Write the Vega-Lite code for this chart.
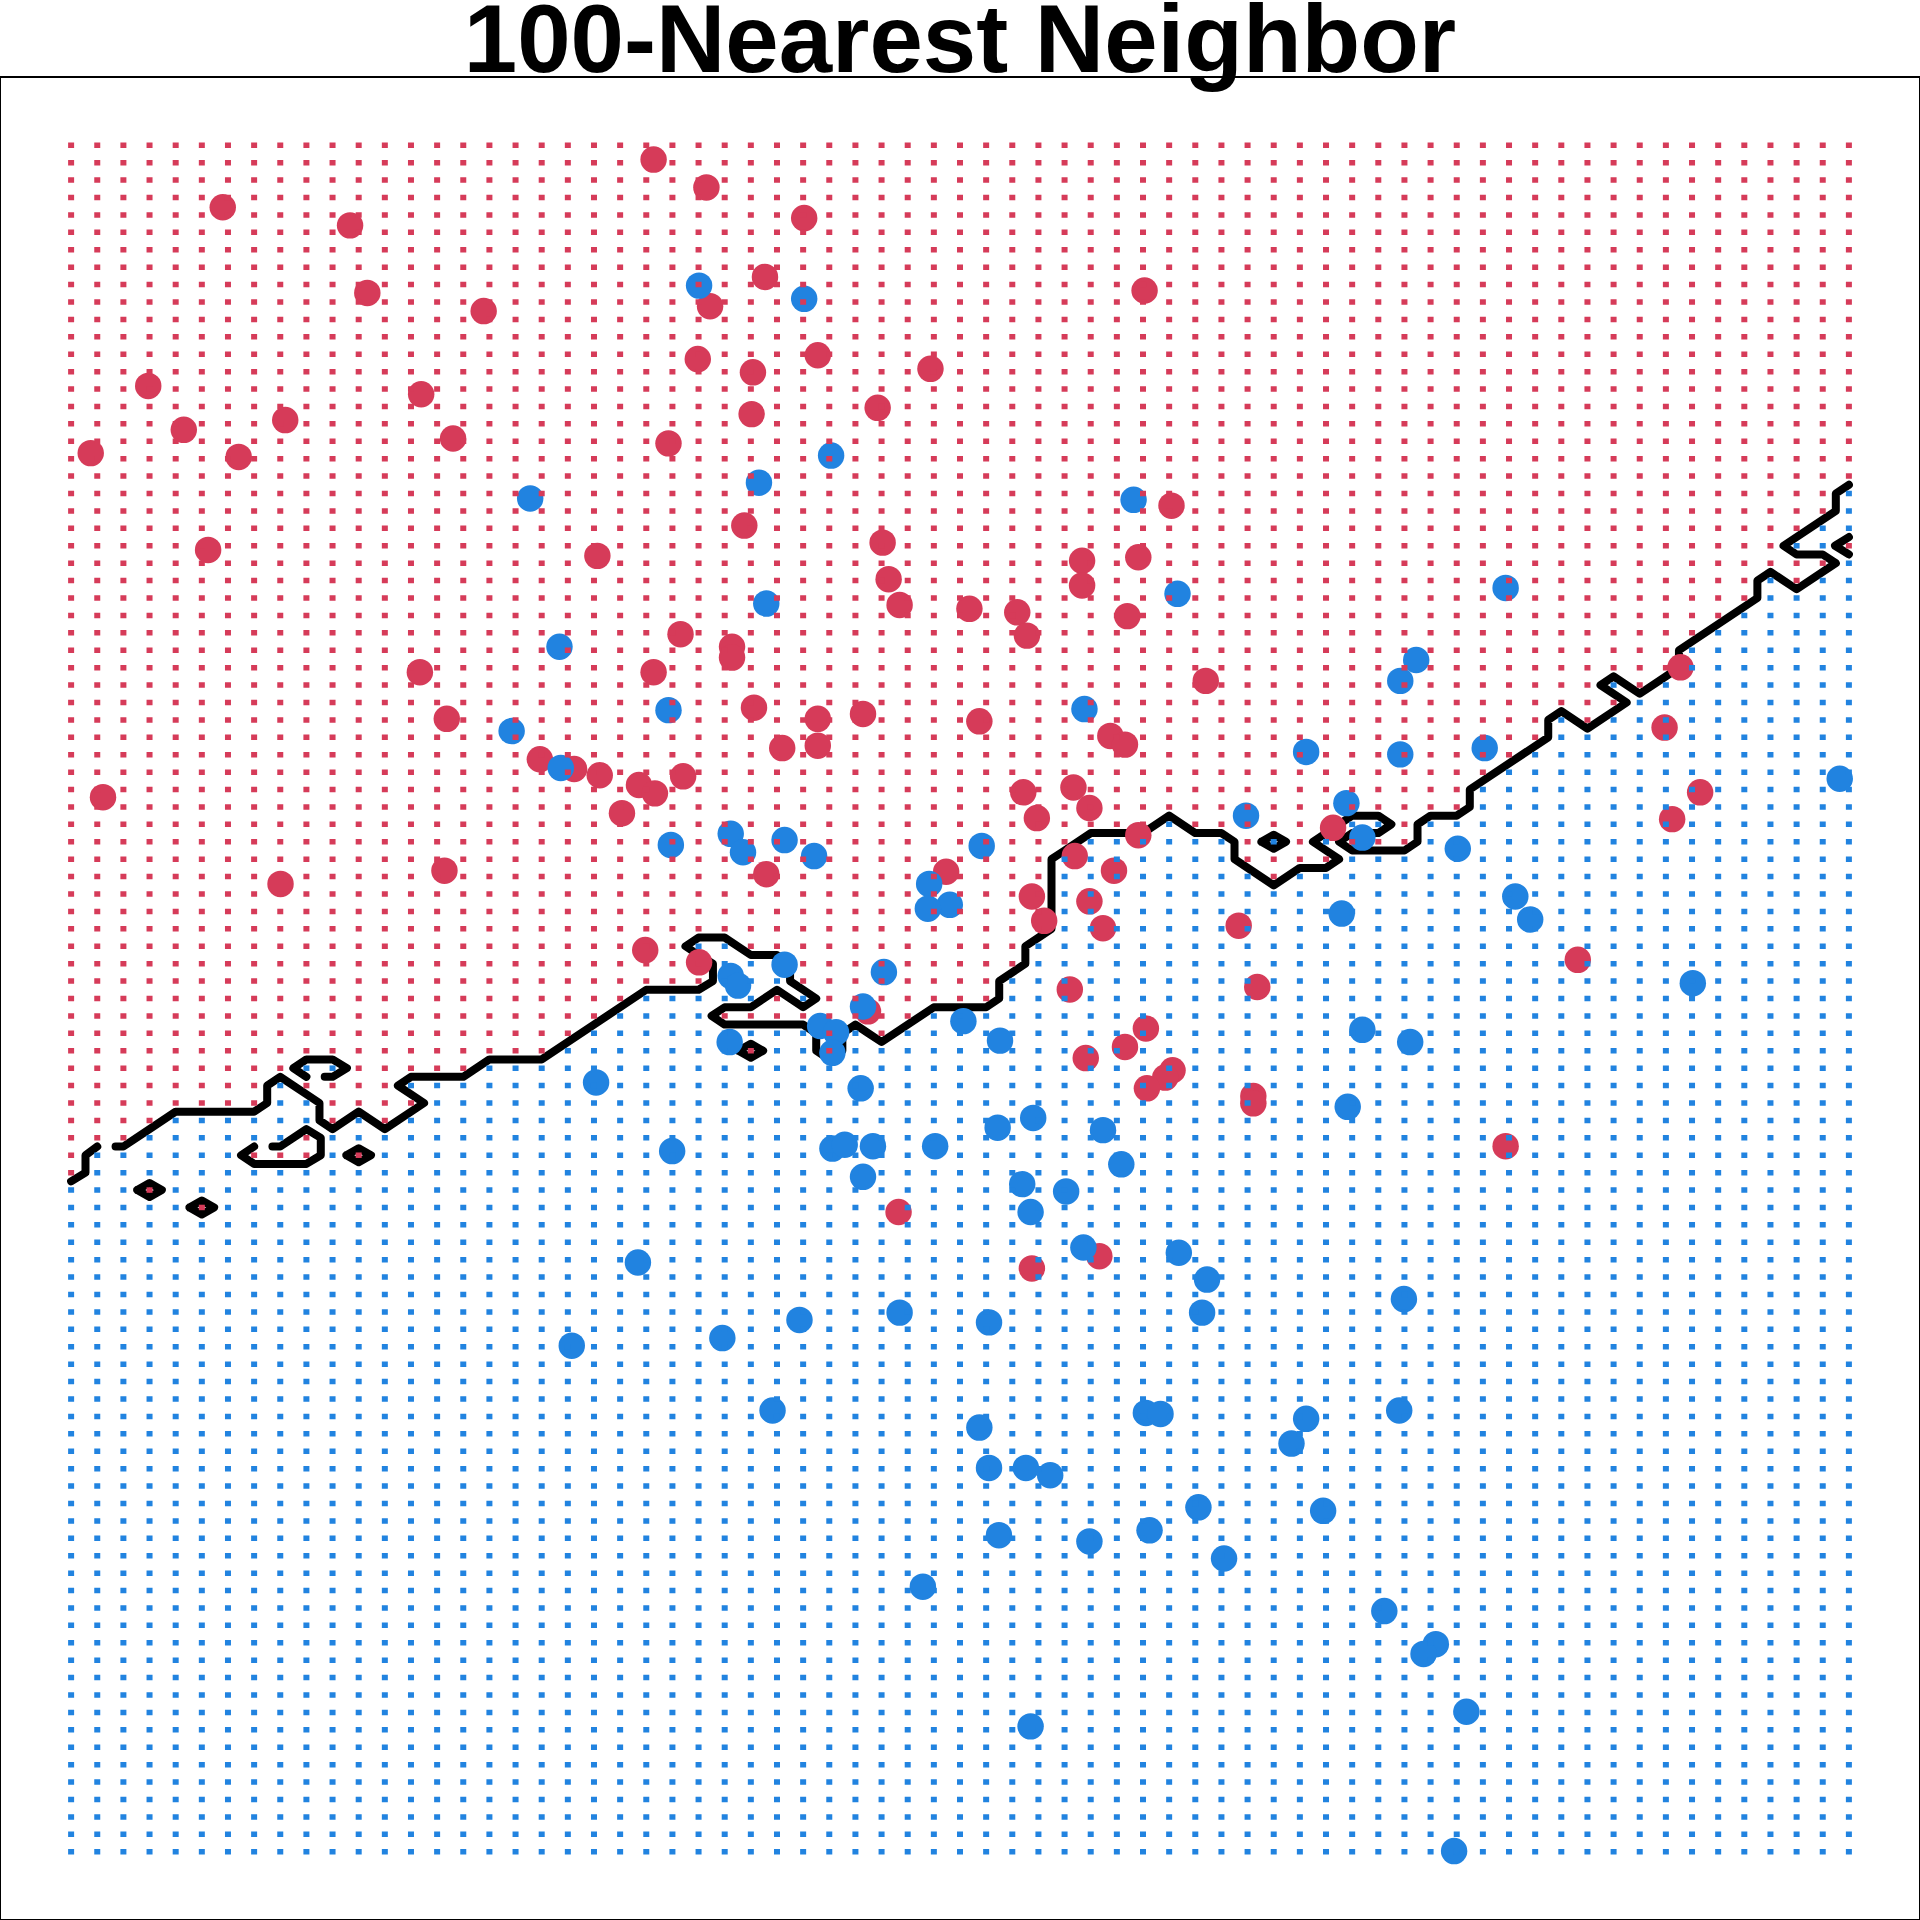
{
  "$schema": "https://vega.github.io/schema/vega-lite/v6.json",
  "width": 1920,
  "height": 1843,
  "autosize": {"type": "none"},
  "padding": {"top": 77, "left": 0, "right": 0, "bottom": 0},
  "background": "white",
  "title": {"text": "100-Nearest Neighbor", "font": "Liberation Sans", "fontSize": 96, "fontWeight": "bold", "color": "black", "anchor": "middle", "baseline": "alphabetic", "offset": 3, "dy": 94},
  "config": {"view": {"stroke": "black", "strokeWidth": 2}},
  "datasets": {
    "grid": [
      {"x":-2.6,"y0":-2.025,"y1":-0.075,"c":"blue"},{"x":-2.6,"y0":-0.075,"y1":2.925,"c":"red"},
      {"x":-2.5,"y0":-2.025,"y1":0.025,"c":"blue"},{"x":-2.5,"y0":0.025,"y1":2.925,"c":"red"},
      {"x":-2.4,"y0":-2.025,"y1":0.025,"c":"blue"},{"x":-2.4,"y0":0.025,"y1":2.925,"c":"red"},
      {"x":-2.3,"y0":-2.025,"y1":-0.125,"c":"blue"},{"x":-2.3,"y0":-0.125,"y1":-0.075,"c":"red"},{"x":-2.3,"y0":-0.075,"y1":0.075,"c":"blue"},{"x":-2.3,"y0":0.075,"y1":2.925,"c":"red"},
      {"x":-2.2,"y0":-2.025,"y1":0.125,"c":"blue"},{"x":-2.2,"y0":0.125,"y1":2.925,"c":"red"},
      {"x":-2.1,"y0":-2.025,"y1":-0.175,"c":"blue"},{"x":-2.1,"y0":-0.175,"y1":-0.125,"c":"red"},{"x":-2.1,"y0":-0.125,"y1":0.125,"c":"blue"},{"x":-2.1,"y0":0.125,"y1":2.925,"c":"red"},
      {"x":-2.0,"y0":-2.025,"y1":0.125,"c":"blue"},{"x":-2.0,"y0":0.125,"y1":2.925,"c":"red"},
      {"x":-1.9,"y0":-2.025,"y1":-0.025,"c":"blue"},{"x":-1.9,"y0":-0.025,"y1":0.025,"c":"red"},{"x":-1.9,"y0":0.025,"y1":0.125,"c":"blue"},{"x":-1.9,"y0":0.125,"y1":2.925,"c":"red"},
      {"x":-1.8,"y0":-2.025,"y1":-0.025,"c":"blue"},{"x":-1.8,"y0":-0.025,"y1":0.025,"c":"red"},{"x":-1.8,"y0":0.025,"y1":0.225,"c":"blue"},{"x":-1.8,"y0":0.225,"y1":2.925,"c":"red"},
      {"x":-1.7,"y0":-2.025,"y1":-0.025,"c":"blue"},{"x":-1.7,"y0":-0.025,"y1":0.075,"c":"red"},{"x":-1.7,"y0":0.075,"y1":0.175,"c":"blue"},{"x":-1.7,"y0":0.175,"y1":0.225,"c":"red"},{"x":-1.7,"y0":0.225,"y1":0.275,"c":"blue"},{"x":-1.7,"y0":0.275,"y1":2.925,"c":"red"},
      {"x":-1.6,"y0":-2.025,"y1":0.075,"c":"blue"},{"x":-1.6,"y0":0.075,"y1":0.225,"c":"red"},{"x":-1.6,"y0":0.225,"y1":0.275,"c":"blue"},{"x":-1.6,"y0":0.275,"y1":2.925,"c":"red"},
      {"x":-1.5,"y0":-2.025,"y1":-0.025,"c":"blue"},{"x":-1.5,"y0":-0.025,"y1":0.025,"c":"red"},{"x":-1.5,"y0":0.025,"y1":0.125,"c":"blue"},{"x":-1.5,"y0":0.125,"y1":2.925,"c":"red"},
      {"x":-1.4,"y0":-2.025,"y1":0.075,"c":"blue"},{"x":-1.4,"y0":0.075,"y1":2.925,"c":"red"},
      {"x":-1.3,"y0":-2.025,"y1":0.125,"c":"blue"},{"x":-1.3,"y0":0.125,"y1":0.175,"c":"red"},{"x":-1.3,"y0":0.175,"y1":0.225,"c":"blue"},{"x":-1.3,"y0":0.225,"y1":2.925,"c":"red"},
      {"x":-1.2,"y0":-2.025,"y1":0.225,"c":"blue"},{"x":-1.2,"y0":0.225,"y1":2.925,"c":"red"},
      {"x":-1.1,"y0":-2.025,"y1":0.225,"c":"blue"},{"x":-1.1,"y0":0.225,"y1":2.925,"c":"red"},
      {"x":-1.0,"y0":-2.025,"y1":0.275,"c":"blue"},{"x":-1.0,"y0":0.275,"y1":2.925,"c":"red"},
      {"x":-0.9,"y0":-2.025,"y1":0.275,"c":"blue"},{"x":-0.9,"y0":0.275,"y1":2.925,"c":"red"},
      {"x":-0.8,"y0":-2.025,"y1":0.275,"c":"blue"},{"x":-0.8,"y0":0.275,"y1":2.925,"c":"red"},
      {"x":-0.7,"y0":-2.025,"y1":0.325,"c":"blue"},{"x":-0.7,"y0":0.325,"y1":2.925,"c":"red"},
      {"x":-0.6,"y0":-2.025,"y1":0.375,"c":"blue"},{"x":-0.6,"y0":0.375,"y1":2.925,"c":"red"},
      {"x":-0.5,"y0":-2.025,"y1":0.425,"c":"blue"},{"x":-0.5,"y0":0.425,"y1":2.925,"c":"red"},
      {"x":-0.4,"y0":-2.025,"y1":0.475,"c":"blue"},{"x":-0.4,"y0":0.475,"y1":2.925,"c":"red"},
      {"x":-0.3,"y0":-2.025,"y1":0.475,"c":"blue"},{"x":-0.3,"y0":0.475,"y1":2.925,"c":"red"},
      {"x":-0.2,"y0":-2.025,"y1":0.475,"c":"blue"},{"x":-0.2,"y0":0.475,"y1":0.575,"c":"red"},{"x":-0.2,"y0":0.575,"y1":0.625,"c":"blue"},{"x":-0.2,"y0":0.625,"y1":2.925,"c":"red"},
      {"x":-0.1,"y0":-2.025,"y1":0.375,"c":"blue"},{"x":-0.1,"y0":0.375,"y1":0.425,"c":"red"},{"x":-0.1,"y0":0.425,"y1":0.625,"c":"blue"},{"x":-0.1,"y0":0.625,"y1":2.925,"c":"red"},
      {"x":0.0,"y0":-2.025,"y1":0.275,"c":"blue"},{"x":0.0,"y0":0.275,"y1":0.325,"c":"red"},{"x":0.0,"y0":0.325,"y1":0.375,"c":"blue"},{"x":0.0,"y0":0.375,"y1":0.425,"c":"red"},{"x":0.0,"y0":0.425,"y1":0.575,"c":"blue"},{"x":0.0,"y0":0.575,"y1":2.925,"c":"red"},
      {"x":0.1,"y0":-2.025,"y1":0.375,"c":"blue"},{"x":0.1,"y0":0.375,"y1":0.475,"c":"red"},{"x":0.1,"y0":0.475,"y1":0.575,"c":"blue"},{"x":0.1,"y0":0.575,"y1":2.925,"c":"red"},
      {"x":0.2,"y0":-2.025,"y1":0.375,"c":"blue"},{"x":0.2,"y0":0.375,"y1":0.425,"c":"red"},{"x":0.2,"y0":0.425,"y1":0.475,"c":"blue"},{"x":0.2,"y0":0.475,"y1":2.925,"c":"red"},
      {"x":0.3,"y0":-2.025,"y1":0.275,"c":"blue"},{"x":0.3,"y0":0.275,"y1":2.925,"c":"red"},
      {"x":0.4,"y0":-2.025,"y1":0.375,"c":"blue"},{"x":0.4,"y0":0.375,"y1":2.925,"c":"red"},
      {"x":0.5,"y0":-2.025,"y1":0.325,"c":"blue"},{"x":0.5,"y0":0.325,"y1":2.925,"c":"red"},
      {"x":0.6,"y0":-2.025,"y1":0.375,"c":"blue"},{"x":0.6,"y0":0.375,"y1":2.925,"c":"red"},
      {"x":0.7,"y0":-2.025,"y1":0.425,"c":"blue"},{"x":0.7,"y0":0.425,"y1":2.925,"c":"red"},
      {"x":0.8,"y0":-2.025,"y1":0.425,"c":"blue"},{"x":0.8,"y0":0.425,"y1":2.925,"c":"red"},
      {"x":0.9,"y0":-2.025,"y1":0.425,"c":"blue"},{"x":0.9,"y0":0.425,"y1":2.925,"c":"red"},
      {"x":1.0,"y0":-2.025,"y1":0.525,"c":"blue"},{"x":1.0,"y0":0.525,"y1":2.925,"c":"red"},
      {"x":1.1,"y0":-2.025,"y1":0.625,"c":"blue"},{"x":1.1,"y0":0.625,"y1":2.925,"c":"red"},
      {"x":1.2,"y0":-2.025,"y1":0.875,"c":"blue"},{"x":1.2,"y0":0.875,"y1":2.925,"c":"red"},
      {"x":1.3,"y0":-2.025,"y1":0.925,"c":"blue"},{"x":1.3,"y0":0.925,"y1":2.925,"c":"red"},
      {"x":1.4,"y0":-2.025,"y1":0.925,"c":"blue"},{"x":1.4,"y0":0.925,"y1":2.925,"c":"red"},
      {"x":1.5,"y0":-2.025,"y1":0.925,"c":"blue"},{"x":1.5,"y0":0.925,"y1":2.925,"c":"red"},
      {"x":1.6,"y0":-2.025,"y1":0.975,"c":"blue"},{"x":1.6,"y0":0.975,"y1":2.925,"c":"red"},
      {"x":1.7,"y0":-2.025,"y1":0.925,"c":"blue"},{"x":1.7,"y0":0.925,"y1":2.925,"c":"red"},
      {"x":1.8,"y0":-2.025,"y1":0.925,"c":"blue"},{"x":1.8,"y0":0.925,"y1":2.925,"c":"red"},
      {"x":1.9,"y0":-2.025,"y1":0.825,"c":"blue"},{"x":1.9,"y0":0.825,"y1":2.925,"c":"red"},
      {"x":2.0,"y0":-2.025,"y1":0.775,"c":"blue"},{"x":2.0,"y0":0.775,"y1":0.875,"c":"red"},{"x":2.0,"y0":0.875,"y1":0.925,"c":"blue"},{"x":2.0,"y0":0.925,"y1":2.925,"c":"red"},
      {"x":2.1,"y0":-2.025,"y1":0.825,"c":"blue"},{"x":2.1,"y0":0.825,"y1":2.925,"c":"red"},
      {"x":2.2,"y0":-2.025,"y1":0.825,"c":"blue"},{"x":2.2,"y0":0.825,"y1":0.875,"c":"red"},{"x":2.2,"y0":0.875,"y1":0.925,"c":"blue"},{"x":2.2,"y0":0.925,"y1":2.925,"c":"red"},
      {"x":2.3,"y0":-2.025,"y1":0.875,"c":"blue"},{"x":2.3,"y0":0.875,"y1":0.925,"c":"red"},{"x":2.3,"y0":0.925,"y1":0.975,"c":"blue"},{"x":2.3,"y0":0.975,"y1":2.925,"c":"red"},
      {"x":2.4,"y0":-2.025,"y1":0.875,"c":"blue"},{"x":2.4,"y0":0.875,"y1":0.925,"c":"red"},{"x":2.4,"y0":0.925,"y1":0.975,"c":"blue"},{"x":2.4,"y0":0.975,"y1":2.925,"c":"red"},
      {"x":2.5,"y0":-2.025,"y1":0.875,"c":"blue"},{"x":2.5,"y0":0.875,"y1":2.925,"c":"red"},
      {"x":2.6,"y0":-2.025,"y1":0.975,"c":"blue"},{"x":2.6,"y0":0.975,"y1":2.925,"c":"red"},
      {"x":2.7,"y0":-2.025,"y1":0.975,"c":"blue"},{"x":2.7,"y0":0.975,"y1":2.925,"c":"red"},
      {"x":2.8,"y0":-2.025,"y1":1.075,"c":"blue"},{"x":2.8,"y0":1.075,"y1":2.925,"c":"red"},
      {"x":2.9,"y0":-2.025,"y1":1.125,"c":"blue"},{"x":2.9,"y0":1.125,"y1":2.925,"c":"red"},
      {"x":3.0,"y0":-2.025,"y1":1.175,"c":"blue"},{"x":3.0,"y0":1.175,"y1":2.925,"c":"red"},
      {"x":3.1,"y0":-2.025,"y1":1.275,"c":"blue"},{"x":3.1,"y0":1.275,"y1":2.925,"c":"red"},
      {"x":3.2,"y0":-2.025,"y1":1.225,"c":"blue"},{"x":3.2,"y0":1.225,"y1":2.925,"c":"red"},
      {"x":3.3,"y0":-2.025,"y1":1.275,"c":"blue"},{"x":3.3,"y0":1.275,"y1":1.325,"c":"red"},{"x":3.3,"y0":1.325,"y1":1.375,"c":"blue"},{"x":3.3,"y0":1.375,"y1":2.925,"c":"red"},
      {"x":3.4,"y0":-2.025,"y1":1.325,"c":"blue"},{"x":3.4,"y0":1.325,"y1":2.925,"c":"red"},
      {"x":3.5,"y0":-2.025,"y1":1.375,"c":"blue"},{"x":3.5,"y0":1.375,"y1":2.925,"c":"red"},
      {"x":3.6,"y0":-2.025,"y1":1.475,"c":"blue"},{"x":3.6,"y0":1.475,"y1":2.925,"c":"red"},
      {"x":3.7,"y0":-2.025,"y1":1.525,"c":"blue"},{"x":3.7,"y0":1.525,"y1":2.925,"c":"red"},
      {"x":3.8,"y0":-2.025,"y1":1.575,"c":"blue"},{"x":3.8,"y0":1.575,"y1":2.925,"c":"red"},
      {"x":3.9,"y0":-2.025,"y1":1.675,"c":"blue"},{"x":3.9,"y0":1.675,"y1":2.925,"c":"red"},
      {"x":4.0,"y0":-2.025,"y1":1.625,"c":"blue"},{"x":4.0,"y0":1.625,"y1":1.725,"c":"red"},{"x":4.0,"y0":1.725,"y1":1.775,"c":"blue"},{"x":4.0,"y0":1.775,"y1":2.925,"c":"red"},
      {"x":4.1,"y0":-2.025,"y1":1.675,"c":"blue"},{"x":4.1,"y0":1.675,"y1":1.725,"c":"red"},{"x":4.1,"y0":1.725,"y1":1.825,"c":"blue"},{"x":4.1,"y0":1.825,"y1":2.925,"c":"red"},
      {"x":4.2,"y0":-2.025,"y1":1.725,"c":"blue"},{"x":4.2,"y0":1.725,"y1":1.775,"c":"red"},{"x":4.2,"y0":1.775,"y1":1.925,"c":"blue"},{"x":4.2,"y0":1.925,"y1":2.925,"c":"red"}
    ],
    "contour": [
      {"p":"a","k":0,"x":-2.6,"y":-0.075},{"p":"a","k":1,"x":-2.545,"y":-0.05},{"p":"a","k":2,"x":-2.545,"y":0},{"p":"a","k":3,"x":-2.5,"y":0.025},
      {"p":"m","k":0,"x":-2.43,"y":0.025},{"p":"m","k":1,"x":-2.4,"y":0.025},{"p":"m","k":2,"x":-2.3,"y":0.075},{"p":"m","k":3,"x":-2.2,"y":0.125},{"p":"m","k":4,"x":-1.9,"y":0.125},{"p":"m","k":5,"x":-1.85,"y":0.15},{"p":"m","k":6,"x":-1.85,"y":0.2},{"p":"m","k":7,"x":-1.8,"y":0.225},{"p":"m","k":8,"x":-1.7,"y":0.175},{"p":"m","k":9,"x":-1.65,"y":0.15},
      {"p":"m","k":10,"x":-1.65,"y":0.1},{"p":"m","k":11,"x":-1.6,"y":0.075},{"p":"m","k":12,"x":-1.5,"y":0.125},{"p":"m","k":13,"x":-1.4,"y":0.075},{"p":"m","k":14,"x":-1.25,"y":0.15},{"p":"m","k":15,"x":-1.35,"y":0.2},{"p":"m","k":16,"x":-1.3,"y":0.225},{"p":"m","k":17,"x":-1.1,"y":0.225},{"p":"m","k":18,"x":-1.0,"y":0.275},{"p":"m","k":19,"x":-0.8,"y":0.275},
      {"p":"m","k":20,"x":-0.4,"y":0.475},{"p":"m","k":21,"x":-0.2,"y":0.475},{"p":"m","k":22,"x":-0.145,"y":0.5},{"p":"m","k":23,"x":-0.145,"y":0.55},{"p":"m","k":24,"x":-0.2,"y":0.575},{"p":"m","k":25,"x":-0.25,"y":0.6},{"p":"m","k":26,"x":-0.2,"y":0.625},{"p":"m","k":27,"x":-0.1,"y":0.625},{"p":"m","k":28,"x":0,"y":0.575},{"p":"m","k":29,"x":0.1,"y":0.575},
      {"p":"m","k":30,"x":0.15,"y":0.55},{"p":"m","k":31,"x":0.15,"y":0.5},{"p":"m","k":32,"x":0.2,"y":0.475},{"p":"m","k":33,"x":0.25,"y":0.45},{"p":"m","k":34,"x":0.2,"y":0.425},{"p":"m","k":35,"x":0.15,"y":0.45},{"p":"m","k":36,"x":0.1,"y":0.475},{"p":"m","k":37,"x":0.05,"y":0.45},{"p":"m","k":38,"x":0,"y":0.425},{"p":"m","k":39,"x":-0.1,"y":0.425},
      {"p":"m","k":40,"x":-0.15,"y":0.4},{"p":"m","k":41,"x":-0.1,"y":0.375},{"p":"m","k":42,"x":0.2,"y":0.375},{"p":"m","k":43,"x":0.25,"y":0.35},{"p":"m","k":44,"x":0.25,"y":0.3},{"p":"m","k":45,"x":0.3,"y":0.275},{"p":"m","k":46,"x":0.35,"y":0.3},{"p":"m","k":47,"x":0.35,"y":0.35},{"p":"m","k":48,"x":0.4,"y":0.375},{"p":"m","k":49,"x":0.45,"y":0.35},
      {"p":"m","k":50,"x":0.5,"y":0.325},{"p":"m","k":51,"x":0.7,"y":0.425},{"p":"m","k":52,"x":0.9,"y":0.425},{"p":"m","k":53,"x":0.95,"y":0.45},{"p":"m","k":54,"x":0.95,"y":0.5},{"p":"m","k":55,"x":1.05,"y":0.55},{"p":"m","k":56,"x":1.05,"y":0.6},{"p":"m","k":57,"x":1.1,"y":0.625},{"p":"m","k":58,"x":1.15,"y":0.65},{"p":"m","k":59,"x":1.15,"y":0.85},
      {"p":"m","k":60,"x":1.2,"y":0.875},{"p":"m","k":61,"x":1.3,"y":0.925},{"p":"m","k":62,"x":1.5,"y":0.925},{"p":"m","k":63,"x":1.6,"y":0.975},{"p":"m","k":64,"x":1.7,"y":0.925},{"p":"m","k":65,"x":1.8,"y":0.925},{"p":"m","k":66,"x":1.85,"y":0.9},{"p":"m","k":67,"x":1.85,"y":0.85},{"p":"m","k":68,"x":2.0,"y":0.775},{"p":"m","k":69,"x":2.1,"y":0.825},
      {"p":"m","k":70,"x":2.2,"y":0.825},{"p":"m","k":71,"x":2.25,"y":0.85},{"p":"m","k":72,"x":2.15,"y":0.9},{"p":"m","k":73,"x":2.2,"y":0.925},{"p":"m","k":74,"x":2.25,"y":0.95},{"p":"m","k":75,"x":2.3,"y":0.975},{"p":"m","k":76,"x":2.4,"y":0.975},{"p":"m","k":77,"x":2.45,"y":0.95},{"p":"m","k":78,"x":2.4,"y":0.925},{"p":"m","k":79,"x":2.3,"y":0.925},
      {"p":"m","k":80,"x":2.25,"y":0.9},{"p":"m","k":81,"x":2.3,"y":0.875},{"p":"m","k":82,"x":2.5,"y":0.875},{"p":"m","k":83,"x":2.55,"y":0.9},{"p":"m","k":84,"x":2.55,"y":0.95},{"p":"m","k":85,"x":2.6,"y":0.975},{"p":"m","k":86,"x":2.7,"y":0.975},{"p":"m","k":87,"x":2.75,"y":1.0},{"p":"m","k":88,"x":2.75,"y":1.05},{"p":"m","k":89,"x":3.05,"y":1.2},
      {"p":"m","k":90,"x":3.05,"y":1.25},{"p":"m","k":91,"x":3.1,"y":1.275},{"p":"m","k":92,"x":3.2,"y":1.225},{"p":"m","k":93,"x":3.35,"y":1.3},{"p":"m","k":94,"x":3.25,"y":1.35},{"p":"m","k":95,"x":3.3,"y":1.375},{"p":"m","k":96,"x":3.4,"y":1.325},{"p":"m","k":97,"x":3.5,"y":1.375},{"p":"m","k":98,"x":3.55,"y":1.4},{"p":"m","k":99,"x":3.55,"y":1.45},
      {"p":"m","k":100,"x":3.85,"y":1.6},{"p":"m","k":101,"x":3.85,"y":1.65},{"p":"m","k":102,"x":3.9,"y":1.675},{"p":"m","k":103,"x":4.0,"y":1.625},{"p":"m","k":104,"x":4.15,"y":1.7},{"p":"m","k":105,"x":4.1,"y":1.725},{"p":"m","k":106,"x":4.0,"y":1.725},{"p":"m","k":107,"x":3.95,"y":1.75},{"p":"m","k":108,"x":4.15,"y":1.85},{"p":"m","k":109,"x":4.15,"y":1.9},{"p":"m","k":110,"x":4.2,"y":1.925},
      {"p":"cu","k":0,"x":-1.7,"y":0.225},{"p":"cu","k":1,"x":-1.75,"y":0.25},{"p":"cu","k":2,"x":-1.7,"y":0.275},{"p":"cu","k":3,"x":-1.6,"y":0.275},{"p":"cu","k":4,"x":-1.545,"y":0.25},{"p":"cu","k":5,"x":-1.6,"y":0.225},{"p":"cu","k":6,"x":-1.63,"y":0.225},
      {"p":"cl","k":0,"x":-1.9,"y":0.025},{"p":"cl","k":1,"x":-1.95,"y":0},{"p":"cl","k":2,"x":-1.9,"y":-0.025},{"p":"cl","k":3,"x":-1.7,"y":-0.025},{"p":"cl","k":4,"x":-1.645,"y":0},{"p":"cl","k":5,"x":-1.645,"y":0.05},{"p":"cl","k":6,"x":-1.7,"y":0.075},{"p":"cl","k":7,"x":-1.8,"y":0.025},{"p":"cl","k":8,"x":-1.83,"y":0.025},
      {"p":"e","k":0,"x":4.2,"y":1.775},{"p":"e","k":1,"x":4.147,"y":1.75},{"p":"e","k":2,"x":4.2,"y":1.725},
      {"p":"d1","k":0,"x":-2.347,"y":-0.1},{"p":"d1","k":1,"x":-2.3,"y":-0.08},{"p":"d1","k":2,"x":-2.253,"y":-0.1},{"p":"d1","k":3,"x":-2.3,"y":-0.12},{"p":"d1","k":4,"x":-2.347,"y":-0.1},
      {"p":"d2","k":0,"x":-2.147,"y":-0.15},{"p":"d2","k":1,"x":-2.1,"y":-0.13},{"p":"d2","k":2,"x":-2.053,"y":-0.15},{"p":"d2","k":3,"x":-2.1,"y":-0.17},{"p":"d2","k":4,"x":-2.147,"y":-0.15},
      {"p":"d3","k":0,"x":-1.547,"y":0},{"p":"d3","k":1,"x":-1.5,"y":0.02},{"p":"d3","k":2,"x":-1.453,"y":0},{"p":"d3","k":3,"x":-1.5,"y":-0.02},{"p":"d3","k":4,"x":-1.547,"y":0},
      {"p":"d4","k":0,"x":-0.047,"y":0.3},{"p":"d4","k":1,"x":0,"y":0.32},{"p":"d4","k":2,"x":0.047,"y":0.3},{"p":"d4","k":3,"x":0,"y":0.28},{"p":"d4","k":4,"x":-0.047,"y":0.3},
      {"p":"d5","k":0,"x":1.953,"y":0.9},{"p":"d5","k":1,"x":2.0,"y":0.92},{"p":"d5","k":2,"x":2.047,"y":0.9},{"p":"d5","k":3,"x":2.0,"y":0.88},{"p":"d5","k":4,"x":1.953,"y":0.9}
    ],
    "pts": [
      {"x":-0.372,"y":2.859,"c":"red"},{"x":-0.170,"y":2.779,"c":"red"},{"x":-2.020,"y":2.722,"c":"red"},{"x":-1.533,"y":2.670,"c":"red"},{"x":0.204,"y":2.691,"c":"red"},
      {"x":0.054,"y":2.522,"c":"red"},{"x":-1.467,"y":2.476,"c":"red"},{"x":-0.156,"y":2.438,"c":"red"},{"x":1.506,"y":2.483,"c":"red"},{"x":-1.022,"y":2.424,"c":"red"},
      {"x":0.256,"y":2.297,"c":"red"},{"x":-0.203,"y":2.286,"c":"red"},{"x":0.008,"y":2.248,"c":"red"},{"x":0.687,"y":2.258,"c":"red"},{"x":-2.305,"y":2.209,"c":"red"},
      {"x":-1.261,"y":2.185,"c":"red"},{"x":0.485,"y":2.146,"c":"red"},{"x":0.003,"y":2.128,"c":"red"},{"x":-1.781,"y":2.111,"c":"red"},{"x":-2.169,"y":2.083,"c":"red"},
      {"x":-1.139,"y":2.058,"c":"red"},{"x":-0.315,"y":2.044,"c":"red"},{"x":-2.525,"y":2.016,"c":"red"},{"x":-1.959,"y":2.005,"c":"red"},{"x":1.609,"y":1.865,"c":"red"},
      {"x":-0.025,"y":1.808,"c":"red"},{"x":0.504,"y":1.759,"c":"red"},{"x":-2.076,"y":1.738,"c":"red"},{"x":-0.587,"y":1.721,"c":"red"},{"x":1.482,"y":1.717,"c":"red"},
      {"x":1.267,"y":1.707,"c":"red"},{"x":0.527,"y":1.654,"c":"red"},{"x":1.267,"y":1.636,"c":"red"},{"x":0.569,"y":1.580,"c":"red"},{"x":0.836,"y":1.569,"c":"red"},
      {"x":1.019,"y":1.559,"c":"red"},{"x":1.440,"y":1.548,"c":"red"},{"x":1.056,"y":1.492,"c":"red"},{"x":-0.269,"y":1.496,"c":"red"},{"x":-0.072,"y":1.460,"c":"red"},
      {"x":-0.072,"y":1.429,"c":"red"},{"x":-0.372,"y":1.387,"c":"red"},{"x":-1.266,"y":1.387,"c":"red"},{"x":1.740,"y":1.362,"c":"red"},{"x":3.556,"y":1.401,"c":"red"},
      {"x":0.012,"y":1.285,"c":"red"},{"x":0.429,"y":1.267,"c":"red"},{"x":0.256,"y":1.253,"c":"red"},{"x":-1.163,"y":1.253,"c":"red"},{"x":0.874,"y":1.246,"c":"red"},
      {"x":3.495,"y":1.228,"c":"red"},{"x":1.375,"y":1.204,"c":"red"},{"x":1.431,"y":1.179,"c":"red"},{"x":0.120,"y":1.169,"c":"red"},{"x":0.256,"y":1.176,"c":"red"},
      {"x":-0.807,"y":1.137,"c":"red"},{"x":-0.676,"y":1.109,"c":"red"},{"x":-0.578,"y":1.091,"c":"red"},{"x":-0.259,"y":1.088,"c":"red"},{"x":-0.428,"y":1.063,"c":"red"},
      {"x":-0.367,"y":1.039,"c":"red"},{"x":-2.478,"y":1.028,"c":"red"},{"x":1.042,"y":1.042,"c":"red"},{"x":1.234,"y":1.056,"c":"red"},{"x":3.631,"y":1.042,"c":"red"},
      {"x":1.295,"y":0.997,"c":"red"},{"x":-0.493,"y":0.982,"c":"red"},{"x":1.094,"y":0.968,"c":"red"},{"x":3.524,"y":0.965,"c":"red"},{"x":2.227,"y":0.940,"c":"red"},
      {"x":1.482,"y":0.919,"c":"red"},{"x":1.239,"y":0.859,"c":"red"},{"x":0.747,"y":0.814,"c":"red"},{"x":1.389,"y":0.817,"c":"red"},{"x":-1.172,"y":0.817,"c":"red"},
      {"x":0.059,"y":0.807,"c":"red"},{"x":-1.799,"y":0.779,"c":"red"},{"x":1.075,"y":0.743,"c":"red"},{"x":1.295,"y":0.729,"c":"red"},{"x":1.122,"y":0.673,"c":"red"},
      {"x":1.347,"y":0.652,"c":"red"},{"x":1.866,"y":0.659,"c":"red"},{"x":-0.404,"y":0.589,"c":"red"},{"x":3.163,"y":0.561,"c":"red"},{"x":-0.198,"y":0.554,"c":"red"},
      {"x":1.937,"y":0.483,"c":"red"},{"x":1.220,"y":0.476,"c":"red"},{"x":0.448,"y":0.413,"c":"red"},{"x":1.511,"y":0.364,"c":"red"},{"x":1.431,"y":0.311,"c":"red"},
      {"x":1.281,"y":0.279,"c":"red"},{"x":1.613,"y":0.244,"c":"red"},{"x":1.585,"y":0.223,"c":"red"},{"x":1.515,"y":0.192,"c":"red"},{"x":1.922,"y":0.170,"c":"red"},
      {"x":1.922,"y":0.149,"c":"red"},{"x":2.887,"y":0.026,"c":"red"},{"x":0.565,"y":-0.163,"c":"red"},{"x":1.075,"y":-0.325,"c":"red"},{"x":1.333,"y":-0.290,"c":"red"},
      {"x":-0.198,"y":2.497,"c":"blue"},{"x":0.204,"y":2.459,"c":"blue"},{"x":0.307,"y":2.009,"c":"blue"},{"x":0.031,"y":1.931,"c":"blue"},{"x":-0.844,"y":1.886,"c":"blue"},
      {"x":1.464,"y":1.882,"c":"blue"},{"x":2.887,"y":1.629,"c":"blue"},{"x":1.632,"y":1.612,"c":"blue"},{"x":0.059,"y":1.584,"c":"blue"},{"x":-0.732,"y":1.460,"c":"blue"},
      {"x":2.545,"y":1.422,"c":"blue"},{"x":2.484,"y":1.362,"c":"blue"},{"x":-0.315,"y":1.278,"c":"blue"},{"x":1.276,"y":1.281,"c":"blue"},{"x":-0.915,"y":1.218,"c":"blue"},
      {"x":2.124,"y":1.158,"c":"blue"},{"x":2.484,"y":1.151,"c":"blue"},{"x":2.807,"y":1.169,"c":"blue"},{"x":-0.727,"y":1.112,"c":"blue"},{"x":4.165,"y":1.081,"c":"blue"},
      {"x":2.278,"y":1.011,"c":"blue"},{"x":1.894,"y":0.975,"c":"blue"},{"x":2.339,"y":0.912,"c":"blue"},{"x":-0.077,"y":0.923,"c":"blue"},{"x":-0.030,"y":0.870,"c":"blue"},
      {"x":0.129,"y":0.905,"c":"blue"},{"x":0.242,"y":0.859,"c":"blue"},{"x":-0.306,"y":0.891,"c":"blue"},{"x":0.883,"y":0.888,"c":"blue"},{"x":2.704,"y":0.880,"c":"blue"},
      {"x":0.682,"y":0.779,"c":"blue"},{"x":0.761,"y":0.719,"c":"blue"},{"x":0.677,"y":0.708,"c":"blue"},{"x":2.924,"y":0.743,"c":"blue"},{"x":2.981,"y":0.677,"c":"blue"},
      {"x":2.260,"y":0.694,"c":"blue"},{"x":0.129,"y":0.547,"c":"blue"},{"x":0.509,"y":0.526,"c":"blue"},{"x":-0.077,"y":0.515,"c":"blue"},{"x":-0.049,"y":0.487,"c":"blue"},
      {"x":3.603,"y":0.494,"c":"blue"},{"x":0.813,"y":0.385,"c":"blue"},{"x":0.265,"y":0.371,"c":"blue"},{"x":0.326,"y":0.353,"c":"blue"},{"x":-0.081,"y":0.325,"c":"blue"},
      {"x":0.312,"y":0.294,"c":"blue"},{"x":0.953,"y":0.329,"c":"blue"},{"x":2.339,"y":0.360,"c":"blue"},{"x":2.522,"y":0.325,"c":"blue"},{"x":-0.592,"y":0.209,"c":"blue"},
      {"x":0.420,"y":0.192,"c":"blue"},{"x":0.944,"y":0.079,"c":"blue"},{"x":1.080,"y":0.107,"c":"blue"},{"x":1.347,"y":0.072,"c":"blue"},{"x":2.283,"y":0.139,"c":"blue"},
      {"x":-0.301,"y":0.012,"c":"blue"},{"x":0.312,"y":0.019,"c":"blue"},{"x":0.359,"y":0.030,"c":"blue"},{"x":0.467,"y":0.026,"c":"blue"},{"x":0.705,"y":0.026,"c":"blue"},
      {"x":0.429,"y":-0.062,"c":"blue"},{"x":1.417,"y":-0.026,"c":"blue"},{"x":1.038,"y":-0.083,"c":"blue"},{"x":1.206,"y":-0.104,"c":"blue"},{"x":1.070,"y":-0.163,"c":"blue"},
      {"x":-0.432,"y":-0.308,"c":"blue"},{"x":1.272,"y":-0.265,"c":"blue"},{"x":1.637,"y":-0.280,"c":"blue"},{"x":1.745,"y":-0.357,"c":"blue"},{"x":2.498,"y":-0.413,"c":"blue"},
      {"x":1.726,"y":-0.452,"c":"blue"},{"x":0.569,"y":-0.452,"c":"blue"},{"x":0.186,"y":-0.473,"c":"blue"},{"x":0.911,"y":-0.480,"c":"blue"},{"x":-0.109,"y":-0.525,"c":"blue"},
      {"x":-0.685,"y":-0.547,"c":"blue"},{"x":0.083,"y":-0.733,"c":"blue"},{"x":1.511,"y":-0.740,"c":"blue"},{"x":1.567,"y":-0.743,"c":"blue"},{"x":2.480,"y":-0.733,"c":"blue"},
      {"x":2.124,"y":-0.757,"c":"blue"},{"x":0.874,"y":-0.782,"c":"blue"},{"x":2.068,"y":-0.828,"c":"blue"},{"x":0.911,"y":-0.898,"c":"blue"},{"x":1.052,"y":-0.898,"c":"blue"},
      {"x":1.145,"y":-0.919,"c":"blue"},{"x":1.712,"y":-1.011,"c":"blue"},{"x":2.189,"y":-1.021,"c":"blue"},{"x":1.525,"y":-1.077,"c":"blue"},{"x":0.949,"y":-1.091,"c":"blue"},
      {"x":1.295,"y":-1.109,"c":"blue"},{"x":1.810,"y":-1.158,"c":"blue"},{"x":0.658,"y":-1.239,"c":"blue"},{"x":2.423,"y":-1.309,"c":"blue"},{"x":2.620,"y":-1.404,"c":"blue"},
      {"x":2.573,"y":-1.432,"c":"blue"},{"x":2.737,"y":-1.598,"c":"blue"},{"x":1.070,"y":-1.640,"c":"blue"},{"x":2.690,"y":-1.998,"c":"blue"},{"x":0.429,"y":0.427,"c":"blue"}
    ]
  },
  "layer": [
    {
      "data": {"name": "contour"},
      "mark": {"type": "line", "color": "black", "strokeWidth": 8, "strokeCap": "round", "strokeJoin": "round"},
      "encoding": {
        "x": {"field": "x", "type": "quantitative", "scale": {"domain": [-2.872, 4.472], "nice": false, "zero": false}, "axis": null},
        "y": {"field": "y", "type": "quantitative", "scale": {"domain": [-2.196, 3.096], "nice": false, "zero": false}, "axis": null},
        "detail": {"field": "p", "type": "nominal"},
        "order": {"field": "k", "type": "quantitative"}
      }
    },
    {
      "data": {"name": "pts"},
      "mark": {"type": "circle", "size": 700, "opacity": 1},
      "encoding": {
        "x": {"field": "x", "type": "quantitative", "scale": {"domain": [-2.872, 4.472], "nice": false, "zero": false}, "axis": null},
        "y": {"field": "y", "type": "quantitative", "scale": {"domain": [-2.196, 3.096], "nice": false, "zero": false}, "axis": null},
        "color": {"field": "c", "type": "nominal", "scale": {"domain": ["red", "blue"], "range": ["#D63B59", "#2183E0"]}, "legend": null}
      }
    },
    {
      "data": {"name": "grid"},
      "mark": {"type": "rule", "strokeWidth": 6, "strokeDash": [5.5, 11.9131], "strokeDashOffset": 11.4566, "strokeCap": "butt"},
      "encoding": {
        "x": {"field": "x", "type": "quantitative", "scale": {"domain": [-2.872, 4.472], "nice": false, "zero": false}, "axis": null},
        "y": {"field": "y0", "type": "quantitative", "scale": {"domain": [-2.196, 3.096], "nice": false, "zero": false}, "axis": null},
        "y2": {"field": "y1"},
        "color": {"field": "c", "type": "nominal", "scale": {"domain": ["red", "blue"], "range": ["#D63B59", "#2183E0"]}, "legend": null}
      }
    }
  ]
}
